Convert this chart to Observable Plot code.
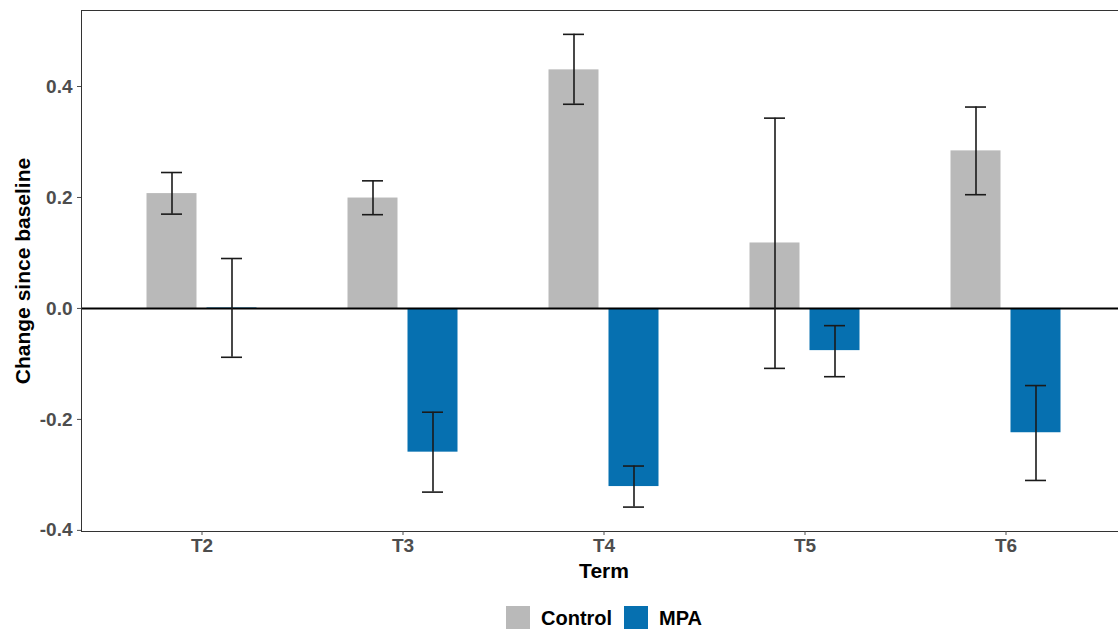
<!DOCTYPE html>
<html>
<head>
<meta charset="utf-8">
<script src="https://cdn.jsdelivr.net/npm/d3@7"></script>
<script src="https://cdn.jsdelivr.net/npm/@observablehq/plot@0.6"></script>
<style>
  html, body { margin: 0; padding: 0; background: #fff; }
  #wrap { position: relative; width: 1118px; height: 629px; overflow: hidden; font-family: "Liberation Sans", Arial, sans-serif; }
  #wrap svg text { font-weight: bold; }
  #legend { position: absolute; left: 506px; top: 606px; display: flex; align-items: center; font-weight: bold; font-size: 20px; color: #000; }
  .sw { width: 24px; height: 24px; }
  .lab { margin-left: 11px; margin-right: 12px; }
</style>
</head>
<body>
<div id="wrap"></div>
<script>
const terms = ["T2", "T3", "T4", "T5", "T6"];
const groups = ["Control", "MPA"];
const groupColors = ["#b9b9b9", "#0670b0"];
const controlMean = [0.207, 0.199, 0.430, 0.118, 0.284];
const controlLo   = [0.170, 0.169, 0.368, -0.108, 0.205];
const controlHi   = [0.245, 0.230, 0.494, 0.343, 0.363];
const mpaMean = [0.001, -0.259, -0.321, -0.076, -0.224];
const mpaLo   = [-0.088, -0.331, -0.358, -0.123, -0.310];
const mpaHi   = [0.090, -0.187, -0.284, -0.031, -0.139];
const yTicks = [-0.4, -0.2, 0.0, 0.2, 0.4];

const control = terms.map((t, i) => ({term: t, mean: controlMean[i], lo: controlLo[i], hi: controlHi[i]}));
const mpa = terms.map((t, i) => ({term: t, mean: mpaMean[i], lo: mpaLo[i], hi: mpaHi[i]}));

const barInset = 75.5, capInset = 90, off = 30;
const errStyle = {stroke: "#1a1a1a", strokeWidth: 1.6};

function series(data, color, dx) {
  return [
    Plot.barY(data, {x: "term", y: "mean", fill: color, insetLeft: barInset, insetRight: barInset, dx})
  ];
}
function errs(data, dx) {
  return [
    Plot.ruleX(data, {x: "term", y1: "lo", y2: "hi", dx, ...errStyle}),
    Plot.tickY(data, {x: "term", y: "lo", dx, insetLeft: capInset, insetRight: capInset, ...errStyle}),
    Plot.tickY(data, {x: "term", y: "hi", dx, insetLeft: capInset, insetRight: capInset, ...errStyle})
  ];
}

const chart = Plot.plot({
  width: 1118,
  height: 598,
  marginLeft: 81,
  marginRight: 0,
  marginTop: 10,
  marginBottom: 67,
  style: {fontFamily: "Liberation Sans, Arial, sans-serif", background: "#fff"},
  x: {type: "band", domain: terms, range: [101.2, 1106.2], padding: 0},
  y: {domain: [-0.402, 0.537], range: [531, 10]},
  marks: [
    ...series(control, groupColors[0], -off),
    ...series(mpa, groupColors[1], off),
    Plot.ruleY([0], {stroke: "#000", strokeWidth: 2}),
    ...errs(control, -off),
    ...errs(mpa, off),
    Plot.frame({anchor: "top", stroke: "#333"}),
    Plot.frame({anchor: "left", stroke: "#333"}),
    Plot.frame({anchor: "bottom", stroke: "#333"}),
    Plot.axisY({ticks: yTicks, tickFormat: d => d.toFixed(1), tickSize: 4, tickPadding: 5, fontSize: 19, color: "#4d4d4d", label: null}),
    Plot.axisX({tickSize: 4, tickPadding: 3, fontSize: 19, color: "#4d4d4d", label: null}),
    Plot.text(["Change since baseline"], {frameAnchor: "left", textAnchor: "middle", dx: -58, rotate: -90, fontSize: 21, fill: "#000", fontWeight: "bold"}),
    Plot.text(["Term"], {frameAnchor: "bottom", dx: 4, dy: 46, fontSize: 21, fill: "#000", fontWeight: "bold"})
  ]
});
const wrap = document.getElementById("wrap");
wrap.appendChild(chart);

const legend = document.createElement("div");
legend.id = "legend";
groups.forEach((g, i) => {
  const sw = document.createElement("div");
  sw.className = "sw";
  sw.style.background = groupColors[i];
  const lab = document.createElement("span");
  lab.className = "lab";
  lab.textContent = g;
  legend.appendChild(sw);
  legend.appendChild(lab);
});
wrap.appendChild(legend);
</script>
</body>
</html>
